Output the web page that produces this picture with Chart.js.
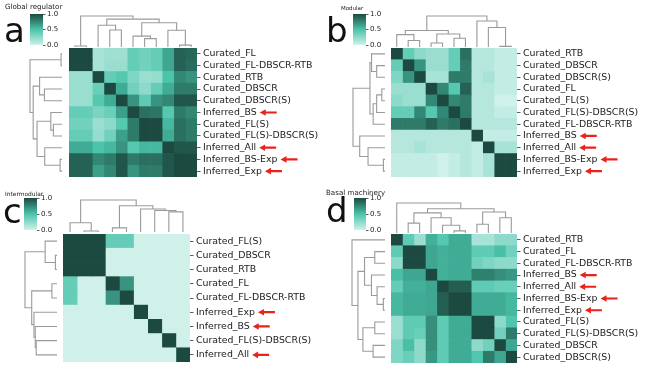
<!DOCTYPE html>
<html>
<head>
<meta charset="utf-8">
<script src="https://cdn.jsdelivr.net/npm/chart.js@4.4.1/dist/chart.umd.min.js"></script>
<style>
  body { margin: 0; width: 646px; height: 371px; background: #fff; position: relative; overflow: hidden; font-family: "DejaVu Sans", sans-serif; }
  canvas { position: absolute; }
  .ttl { position: absolute; color: #222; white-space: nowrap; }
  .let { position: absolute; font-size: 34px; line-height: 34px; color: #111; }
</style>
</head>
<body>
<script>
// ---- data ----
const labelsA = ['Curated_FL', 'Curated_FL-DBSCR-RTB', 'Curated_RTB', 'Curated_DBSCR', 'Curated_DBSCR(S)',
  'Inferred_BS', 'Curated_FL(S)', 'Curated_FL(S)-DBSCR(S)', 'Inferred_All', 'Inferred_BS-Exp', 'Inferred_Exp'];
const valuesA = [
  [1.00, 1.00, 0.15, 0.18, 0.18, 0.40, 0.35, 0.40, 0.62, 0.90, 0.88],
  [1.00, 1.00, 0.15, 0.20, 0.20, 0.40, 0.35, 0.40, 0.62, 0.90, 0.86],
  [0.20, 0.20, 1.00, 0.40, 0.45, 0.30, 0.20, 0.22, 0.50, 0.75, 0.70],
  [0.20, 0.20, 0.38, 1.00, 0.60, 0.35, 0.25, 0.40, 0.60, 0.80, 0.80],
  [0.20, 0.20, 0.45, 0.60, 1.00, 0.70, 0.42, 0.70, 0.75, 0.95, 0.95],
  [0.40, 0.40, 0.32, 0.38, 0.65, 1.00, 0.85, 0.82, 0.45, 0.80, 0.75],
  [0.35, 0.35, 0.20, 0.25, 0.45, 0.80, 1.00, 1.00, 0.55, 0.85, 0.80],
  [0.40, 0.40, 0.22, 0.35, 0.65, 0.80, 1.00, 1.00, 0.60, 0.85, 0.80],
  [0.60, 0.60, 0.50, 0.55, 0.70, 0.45, 0.55, 0.55, 1.00, 0.95, 0.95],
  [0.90, 0.90, 0.75, 0.80, 0.95, 0.80, 0.85, 0.85, 0.95, 1.00, 1.00],
  [0.90, 0.90, 0.65, 0.75, 0.95, 0.70, 0.80, 0.80, 0.95, 1.00, 1.00]
];
// linkage rows: [nodeA, nodeB, height]; leaves 0..n-1 in display order, new node ids n, n+1, ...
const linksA = [[0, 1, 0.03], [3, 4, 0.55], [2, 12, 0.70], [6, 7, 0.27], [5, 14, 0.35],
  [9, 10, 0.06], [8, 16, 0.54], [15, 17, 0.78], [13, 18, 0.90], [11, 19, 1.0]];

const labelsB = ['Curated_RTB', 'Curated_DBSCR', 'Curated_DBSCR(S)', 'Curated_FL', 'Curated_FL(S)',
  'Curated_FL(S)-DBSCR(S)', 'Curated_FL-DBSCR-RTB', 'Inferred_BS', 'Inferred_All', 'Inferred_BS-Exp', 'Inferred_Exp'];
const valuesB = [
  [1.00, 0.40, 0.25, 0.20, 0.20, 0.40, 0.85, 0.10, 0.10, 0.05, 0.05],
  [0.40, 1.00, 0.70, 0.20, 0.20, 0.40, 0.80, 0.10, 0.10, 0.05, 0.05],
  [0.30, 0.70, 1.00, 0.15, 0.15, 0.80, 0.80, 0.10, 0.15, 0.05, 0.05],
  [0.20, 0.20, 0.20, 1.00, 0.75, 0.45, 0.90, 0.10, 0.10, 0.05, 0.05],
  [0.25, 0.20, 0.20, 0.75, 1.00, 0.75, 0.80, 0.10, 0.10, 0.00, 0.00],
  [0.40, 0.40, 0.75, 0.45, 0.75, 1.00, 0.80, 0.10, 0.10, 0.05, 0.05],
  [0.80, 0.80, 0.80, 0.90, 0.80, 0.85, 1.00, 0.10, 0.10, 0.10, 0.10],
  [0.10, 0.10, 0.10, 0.10, 0.10, 0.10, 0.10, 1.00, 0.05, 0.05, 0.05],
  [0.10, 0.10, 0.15, 0.10, 0.10, 0.10, 0.10, 0.05, 1.00, 0.15, 0.15],
  [0.05, 0.05, 0.05, 0.05, 0.00, 0.05, 0.10, 0.05, 0.15, 1.00, 1.00],
  [0.05, 0.05, 0.05, 0.05, 0.00, 0.05, 0.10, 0.05, 0.15, 1.00, 1.00]
];
const colLinksB = [[1, 2, 0.21], [0, 11, 0.40], [3, 4, 0.13], [5, 6, 0.28], [13, 14, 0.42],
  [12, 15, 0.53], [9, 10, 0.02], [8, 17, 0.63], [7, 18, 0.84], [16, 19, 1.0]];
const rowLinksB = [[1, 2, 0.26], [0, 11, 0.42], [3, 4, 0.10], [13, 5, 0.26], [14, 6, 0.37],
  [12, 15, 0.47], [9, 10, 0.05], [8, 17, 0.53], [7, 18, 0.79], [16, 19, 1.0]];

const labelsC = ['Curated_FL(S)', 'Curated_DBSCR', 'Curated_RTB', 'Curated_FL', 'Curated_FL-DBSCR-RTB',
  'Inferred_Exp', 'Inferred_BS', 'Curated_FL(S)-DBSCR(S)', 'Inferred_All'];
const valuesC = [
  [1.0, 1.0, 1.0, 0.4, 0.4, 0.0, 0.0, 0.0, 0.0],
  [1.0, 1.0, 1.0, 0.0, 0.0, 0.0, 0.0, 0.0, 0.0],
  [1.0, 1.0, 1.0, 0.0, 0.0, 0.0, 0.0, 0.0, 0.0],
  [0.4, 0.0, 0.0, 1.0, 0.7, 0.0, 0.0, 0.0, 0.0],
  [0.4, 0.0, 0.0, 0.7, 1.0, 0.0, 0.0, 0.0, 0.0],
  [0.0, 0.0, 0.0, 0.0, 0.0, 1.0, 0.0, 0.0, 0.0],
  [0.0, 0.0, 0.0, 0.0, 0.0, 0.0, 1.0, 0.0, 0.0],
  [0.0, 0.0, 0.0, 0.0, 0.0, 0.0, 0.0, 1.0, 0.0],
  [0.0, 0.0, 0.0, 0.0, 0.0, 0.0, 0.0, 0.0, 1.0]
];
const colLinksC = [[1, 2, 0.03], [0, 9, 0.29], [3, 4, 0.13], [7, 8, 0.63], [6, 12, 0.67],
  [5, 13, 0.72], [11, 14, 0.82], [10, 15, 1.0]];
const rowLinksC = [[1, 2, 0.05], [0, 9, 0.37], [3, 4, 0.16], [7, 8, 0.65], [6, 12, 0.68],
  [5, 13, 0.72], [11, 14, 0.79], [10, 15, 1.0]];

const labelsD = ['Curated_RTB', 'Curated_FL', 'Curated_FL-DBSCR-RTB', 'Inferred_BS', 'Inferred_All',
  'Inferred_BS-Exp', 'Inferred_Exp', 'Curated_FL(S)', 'Curated_FL(S)-DBSCR(S)', 'Curated_DBSCR', 'Curated_DBSCR(S)'];
const valuesD = [
  [1.00, 0.42, 0.20, 0.58, 0.45, 0.60, 0.60, 0.15, 0.15, 0.25, 0.25],
  [0.42, 1.00, 1.00, 0.62, 0.58, 0.60, 0.60, 0.42, 0.42, 0.52, 0.35],
  [0.25, 1.00, 1.00, 0.62, 0.58, 0.60, 0.60, 0.35, 0.30, 0.25, 0.25],
  [0.52, 0.62, 0.62, 1.00, 0.58, 0.60, 0.60, 0.78, 0.78, 0.72, 0.68],
  [0.40, 0.58, 0.58, 0.62, 1.00, 0.92, 0.92, 0.42, 0.42, 0.38, 0.38],
  [0.55, 0.60, 0.60, 0.62, 0.92, 1.00, 1.00, 0.60, 0.60, 0.60, 0.55],
  [0.55, 0.60, 0.60, 0.62, 0.92, 1.00, 1.00, 0.60, 0.60, 0.60, 0.55],
  [0.20, 0.42, 0.42, 0.72, 0.42, 0.60, 0.60, 1.00, 1.00, 0.25, 0.48],
  [0.20, 0.42, 0.38, 0.72, 0.42, 0.60, 0.60, 1.00, 1.00, 0.35, 0.80],
  [0.30, 0.52, 0.25, 0.72, 0.42, 0.60, 0.60, 0.25, 0.35, 1.00, 0.62],
  [0.30, 0.38, 0.25, 0.68, 0.42, 0.60, 0.60, 0.48, 0.80, 0.62, 1.00]
];
const colLinksD = [[1, 2, 0.33], [5, 6, 0.07], [4, 12, 0.26], [3, 13, 0.51], [11, 14, 0.67],
  [7, 8, 0.29], [9, 10, 0.51], [16, 17, 0.70], [15, 18, 0.81], [0, 19, 1.0]];
const rowLinksD = [[1, 2, 0.31], [5, 6, 0.05], [4, 12, 0.24], [3, 13, 0.41], [11, 14, 0.62],
  [7, 8, 0.31], [9, 10, 0.36], [16, 17, 0.67], [15, 18, 0.82], [0, 19, 1.0]];

const cbarTicks = [0, 0.5, 1.0];

// ---- colour map ----
const cmapStops = [[0, [208, 240, 234]], [0.5, [74, 196, 170]], [1, [28, 74, 64]]];
function cmap(v) {
  for (let k = 1; k < cmapStops.length; k++) {
    const [v0, c0] = cmapStops[k - 1], [v1, c1] = cmapStops[k];
    if (v <= v1) {
      const t = (v - v0) / (v1 - v0);
      return `rgb(${c0.map((c, i) => Math.round(c + (c1[i] - c) * t)).join(',')})`;
    }
  }
  return `rgb(${cmapStops[cmapStops.length - 1][1].join(',')})`;
}

// ---- layout ----
const panels = [
  { labels: labelsA, values: valuesA, colLinks: linksA, rowLinks: linksA, title: 'Global regulator', letter: 'a',
    titleSize: 7.1, titlePos: [5, 3.2], letterPos: [4, 13],
    heat: [69, 48, 128, 129], labelArea: 150, top: [69, 16, 128, 31], left: [30, 48, 32, 129], cbar: [30, 14, 13, 31] },
  { labels: labelsB, values: valuesB, colLinks: colLinksB, rowLinks: rowLinksB, title: 'Modular', letter: 'b',
    titleSize: 5.5, titlePos: [341, 5.8], letterPos: [326, 13],
    heat: [391, 48, 126, 129], labelArea: 129, top: [391, 16, 126, 31], left: [353, 48, 32, 129], cbar: [353, 14, 13, 31] },
  { labels: labelsC, values: valuesC, colLinks: colLinksC, rowLinks: rowLinksC, title: 'Intermodular', letter: 'c',
    titleSize: 5.9, titlePos: [5, 191.5], letterPos: [3, 194],
    heat: [63, 234, 127, 128], labelArea: 150, top: [63, 200, 127, 32], left: [25, 234, 32, 128], cbar: [24, 198, 13, 32] },
  { labels: labelsD, values: valuesD, colLinks: colLinksD, rowLinks: rowLinksD, title: 'Basal machinery', letter: 'd',
    titleSize: 7.1, titlePos: [326, 189.2], letterPos: [326, 193],
    heat: [391, 234, 126, 129], labelArea: 129, top: [391, 203, 126, 30], left: [352, 234, 33, 129], cbar: [354, 198, 12, 32] }
];

const LABEL_FONT = 9.4, TICK_LEN = 3.5, TICK_PAD = 2.5;

function makeCanvas(x, y, w, h) {
  const c = document.createElement('canvas');
  c.width = w; c.height = h;
  c.style.left = x + 'px'; c.style.top = y + 'px';
  c.style.width = w + 'px'; c.style.height = h + 'px';
  document.body.appendChild(c);
  return c;
}

function addText(cls, text, x, y, size) {
  const d = document.createElement('div');
  d.className = cls; d.textContent = text;
  d.style.left = x + 'px'; d.style.top = y + 'px';
  if (size) { d.style.fontSize = size + 'px'; d.style.lineHeight = size + 'px'; }
  document.body.appendChild(d);
}

const baseOpts = { responsive: false, animation: false, events: [],
  plugins: { legend: { display: false }, tooltip: { enabled: false } } };

// red arrows after the "Inferred_*" row labels
const arrowPlugin = {
  id: 'arrows',
  afterDraw(chart) {
    const ys = chart.scales.y, ctx = chart.ctx;
    ctx.save();
    ctx.font = `${LABEL_FONT}px "DejaVu Sans"`;
    ctx.fillStyle = '#e8231c';
    chart.data.labels.forEach((lab, i) => {
      if (!lab.startsWith('Inferred')) return;
      const x0 = ys.left + TICK_LEN + TICK_PAD + ctx.measureText(lab).width + 3;
      const yc = ys.getPixelForTick(i);
      ctx.beginPath();
      ctx.moveTo(x0, yc);
      ctx.lineTo(x0 + 6, yc - 3.3);
      ctx.lineTo(x0 + 6, yc - 1.1);
      ctx.lineTo(x0 + 17, yc - 1.1);
      ctx.lineTo(x0 + 17, yc + 1.1);
      ctx.lineTo(x0 + 6, yc + 1.1);
      ctx.lineTo(x0 + 6, yc + 3.3);
      ctx.closePath();
      ctx.fill();
    });
    ctx.restore();
  }
};

function drawHeatmap(p) {
  const [x, y, w, h] = p.heat;
  const n = p.labels.length;
  new Chart(makeCanvas(x, y, w + p.labelArea, h), {
    type: 'bar',
    data: {
      labels: p.labels,
      datasets: p.labels.map((_, j) => ({
        data: p.labels.map(() => 1),
        backgroundColor: p.values.map(row => cmap(row[j])),
        borderWidth: 0, barPercentage: 1, categoryPercentage: 1
      }))
    },
    options: {
      ...baseOpts,
      indexAxis: 'y',
      layout: { padding: 0 },
      scales: {
        x: { display: false, stacked: true, min: 0, max: n },
        y: {
          position: 'right', stacked: true,
          border: { display: false },
          grid: { drawOnChartArea: false, offset: false, tickLength: TICK_LEN, color: '#333', lineWidth: 0.8 },
          ticks: { autoSkip: false, font: { family: 'DejaVu Sans', size: LABEL_FONT }, color: '#1a1a1a', padding: TICK_PAD },
          afterFit: s => { s.width = p.labelArea; s.paddingTop = 0; s.paddingBottom = 0; }
        }
      }
    },
    plugins: [arrowPlugin]
  });
}

function dendroSegments(links, n) {
  const pos = [], hgt = [];
  for (let i = 0; i < n; i++) { pos[i] = i + 0.5; hgt[i] = 0; }
  return links.map(([a, b, ht], k) => {
    pos[n + k] = (pos[a] + pos[b]) / 2; hgt[n + k] = ht;
    return [[pos[a], hgt[a]], [pos[a], ht], [pos[b], ht], [pos[b], hgt[b]]];
  });
}

function drawDendro(box, links, n, onTop) {
  const [x, y, w, h] = box;
  const segs = dendroSegments(links, n);
  const canvas = onTop ? makeCanvas(x, y - 1, w, h + 1) : makeCanvas(x - 1, y, w + 1, h);
  new Chart(canvas, {
    type: 'scatter',
    data: {
      datasets: segs.map(s => ({
        data: s.map(([p, ht]) => onTop ? { x: p, y: ht } : { x: ht, y: p }),
        showLine: true, borderColor: '#9a9a9a', borderWidth: 1.1, pointRadius: 0, clip: false
      }))
    },
    options: {
      ...baseOpts,
      layout: { padding: onTop ? { top: 1 } : { left: 1 } },
      scales: onTop
        ? { x: { display: false, min: 0, max: n }, y: { display: false, min: 0, max: 1 } }
        : { x: { display: false, min: 0, max: 1, reverse: true }, y: { display: false, min: 0, max: n, reverse: true } }
    }
  });
}

function drawColorbar(box) {
  const [x, y, w, h] = box;
  const pad = 5, labelW = 22;
  new Chart(makeCanvas(x, y - pad, w + labelW, h + 2 * pad), {
    type: 'bar',
    data: {
      labels: [''],
      datasets: [{
        data: [1],
        backgroundColor: c => {
          const area = c.chart.chartArea;
          if (!area) return cmap(0.5);
          const g = c.chart.ctx.createLinearGradient(0, area.bottom, 0, area.top);
          cmapStops.forEach(([v]) => g.addColorStop(v, cmap(v)));
          return g;
        },
        borderWidth: 0, barPercentage: 1, categoryPercentage: 1
      }]
    },
    options: {
      ...baseOpts,
      layout: { padding: { top: pad, bottom: pad } },
      scales: {
        x: { display: false },
        y: {
          position: 'right', min: 0, max: 1,
          afterBuildTicks: s => { s.ticks = cbarTicks.map(v => ({ value: v })); },
          border: { display: false },
          grid: { drawOnChartArea: false, tickLength: 2.5, color: '#333', lineWidth: 0.8 },
          ticks: { callback: v => v.toFixed(1), font: { family: 'DejaVu Sans', size: 7 }, color: '#222', padding: 1.5 },
          afterFit: s => { s.width = labelW; s.paddingTop = 0; s.paddingBottom = 0; }
        }
      }
    }
  });
}

panels.forEach(p => {
  const n = p.labels.length;
  drawDendro(p.top, p.colLinks, n, true);
  drawDendro(p.left, p.rowLinks, n, false);
  drawHeatmap(p);
  drawColorbar(p.cbar);
  addText('ttl', p.title, p.titlePos[0], p.titlePos[1], p.titleSize);
  addText('let', p.letter, p.letterPos[0], p.letterPos[1]);
});
</script>
</body>
</html>
